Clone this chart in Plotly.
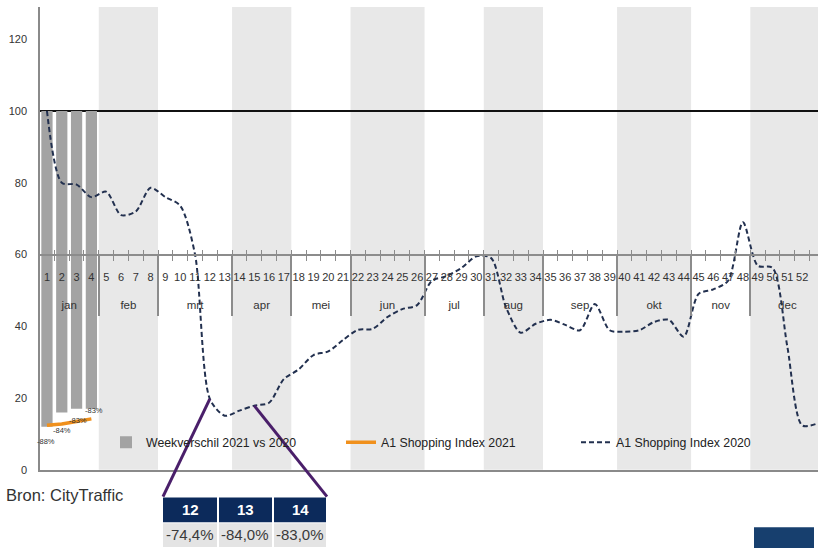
import plotly.graph_objects as go

# ---------------- data ----------------
weeks = list(range(1, 54))
week_labels = [str(w) for w in weeks]
idx2020 = [100, 80, 79.5, 76, 77.5, 71, 72, 78.6, 76, 73.6, 60, 19.8, 15.1, 16.5,
           17.9, 18.7, 25.3, 28, 32, 33, 36.2, 39, 39.3, 42.6, 44.8, 45.9, 52.7,
           54, 56.3, 59.5, 59, 45.3, 38.2, 40.7, 41.8, 40.4, 38.9, 46.2, 38.9,
           38.5, 38.9, 41.2, 41.8, 37.1, 49, 50.3, 52.7, 69, 56.9, 56.3, 34.3,
           12.4, 12.9]
weeks2021 = [1, 2, 3, 4]
idx2021 = [12.4, 12.8, 13.5, 14.2]
diff2021 = [-88, -84, -83, -83]
diff_labels = ["-88%", "-84%", "-83%", "-83%"]
months = ["jan", "feb", "mrt", "apr", "mei", "jun", "jul", "aug", "sep", "okt", "nov", "dec"]
month_weeks = [4, 4, 5, 4, 4, 5, 4, 4, 5, 5, 4, 5]   # weeks per month
shaded_months = ["feb", "apr", "jun", "aug", "okt", "dec"]
table_weeks = ["12", "13", "14"]
table_values = ["-74,4%", "-84,0%", "-83,0%"]
callout_weeks = [12, 15]
y_ticks = [0, 20, 40, 60, 80, 100, 120]
baseline = 100
axis_level = 60
source = "Bron: CityTraffic"

# ---------------- geometry ----------------
W, H = 818, 554
YMAX = 129
XR = [0.53, 53.07]
xdom = [40 / W, 1.0]
ydom = [(H - 475) / H, (H - 7) / H]
FONT = "Liberation Sans, Arial, sans-serif"


def px(x):
    return x / W


def py(y):
    return 1 - y / H


# month boundaries / centres
bounds = [0.5]
for n in month_weeks:
    bounds.append(bounds[-1] + n)
centres = [(bounds[i] + bounds[i + 1]) / 2 for i in range(len(months))]

fig = go.Figure()

fig.add_trace(go.Bar(
    x=weeks2021, y=diff2021, base=baseline, width=0.76,
    marker=dict(color="#a3a3a3", line=dict(width=0)),
    name="Weekverschil 2021 vs 2020"))

fig.add_trace(go.Scatter(
    x=weeks2021, y=idx2021, mode="lines",
    line=dict(color="#f0901c", width=3.5),
    name="A1 Shopping Index 2021"))

fig.add_trace(go.Scatter(
    x=weeks, y=idx2020, mode="lines",
    line=dict(color="#22304f", width=2, dash="5px,3px", shape="spline", smoothing=0.8),
    name="A1 Shopping Index 2020"))

# helper (empty) traces so the week / month axes at level 60 are drawn
for ax in ["x2", "x3", "x4"]:
    fig.add_trace(go.Scatter(x=[None], y=[None], xaxis=ax, yaxis="y", mode="markers",
                             showlegend=False, hoverinfo="skip"))

shapes = []
# shaded month bands
for m, a, b in zip(months, bounds[:-1], bounds[1:]):
    if m in shaded_months:
        shapes.append(dict(type="rect", xref="x", yref="paper", x0=a, x1=b,
                           y0=ydom[0], y1=ydom[1], fillcolor="#e8e8e8",
                           line=dict(width=0), layer="below"))
# baseline 100
shapes.append(dict(type="line", xref="paper", yref="y", x0=xdom[0], x1=xdom[1],
                   y0=baseline, y1=baseline, line=dict(color="#111111", width=2),
                   layer="below"))


def ypaper(v):
    return ydom[0] + v / YMAX * (ydom[1] - ydom[0])


def xpaper(w):
    return xdom[0] + (w - XR[0]) / (XR[1] - XR[0]) * (xdom[1] - xdom[0])


# callout lines to table
tab_x = [163, 218, 273, 327]
tab_y = [503, 528, 553]
ends = [tab_x[0], tab_x[-1]]
for wk, ex in zip(callout_weeks, ends):
    shapes.append(dict(type="line", xref="paper", yref="paper",
                       x0=xpaper(wk), y0=ypaper(idx2020[wk - 1]), x1=px(ex), y1=py(tab_y[0] - 1),
                       line=dict(color="#4a1f6a", width=3)))

annotations = []
# data labels of the weekly difference (small, clustered as in the source)
label_yshift = [-16, -7, 1, 8]
label_xshift = [-1, 0, 1, 3]
for wx, wy, t, ys, xs in zip(weeks2021, idx2021, diff_labels, label_yshift, label_xshift):
    annotations.append(dict(xref="x", yref="y", x=wx, y=wy, text=t, showarrow=False,
                            yshift=ys, xshift=xs,
                            font=dict(size=7.5, color="#333333", family=FONT)))

# table
for i in range(3):
    x0, x1 = tab_x[i] + (1 if i else 0), tab_x[i + 1] - 1
    shapes.append(dict(type="rect", xref="paper", yref="paper", x0=px(x0), x1=px(x1),
                       y0=py(tab_y[1]), y1=py(tab_y[0]), fillcolor="#0c2a5b",
                       line=dict(width=0)))
    shapes.append(dict(type="rect", xref="paper", yref="paper", x0=px(x0), x1=px(x1),
                       y0=py(tab_y[2]), y1=py(tab_y[1] + 1), fillcolor="#e4e4e4",
                       line=dict(width=0)))
    cx = px((x0 + x1) / 2)
    annotations.append(dict(xref="paper", yref="paper", x=cx, y=py((tab_y[0] + tab_y[1]) / 2),
                            text="<b>%s</b>" % table_weeks[i], showarrow=False,
                            font=dict(size=15, color="white", family=FONT),
                            xanchor="center", yanchor="middle"))
    annotations.append(dict(xref="paper", yref="paper", x=cx, y=py((tab_y[1] + tab_y[2]) / 2),
                            text=table_values[i], showarrow=False,
                            font=dict(size=15, color="#3a3a3a", family=FONT),
                            xanchor="center", yanchor="middle"))

# navy block bottom right
shapes.append(dict(type="rect", xref="paper", yref="paper", x0=px(754), x1=px(814),
                   y0=py(554), y1=py(533), fillcolor="#173f6e", line=dict(width=0)))

annotations.append(dict(xref="paper", yref="paper", x=px(4), y=py(500), text=source,
                        showarrow=False, xanchor="left", yanchor="middle",
                        font=dict(size=16.5, color="#333333", family=FONT)))

pos60 = ypaper(axis_level)
edge_ticks = [w + 0.5 for w in [0] + weeks]

fig.update_layout(
    width=W, height=H,
    margin=dict(l=0, r=0, t=0, b=0),
    paper_bgcolor="white", plot_bgcolor="white",
    barmode="overlay",
    showlegend=True,
    legend=dict(orientation="h", x=px(106), y=py(447), xanchor="left", yanchor="middle",
                bgcolor="rgba(0,0,0,0)", entrywidth=190, entrywidthmode="pixels",
                itemwidth=30, font=dict(size=12.3, color="#222222", family=FONT),
                traceorder="normal"),
    shapes=shapes,
    annotations=annotations,
    xaxis=dict(domain=xdom, range=XR, showgrid=False, zeroline=False,
               showticklabels=False, ticks="", showline=True,
               linecolor="#8a8a8a", linewidth=1.5, anchor="y"),
    xaxis2=dict(overlaying="x", matches="x", anchor="free", position=pos60,
                tickmode="array", tickvals=weeks, ticktext=week_labels, ticks="",
                showline=True, linecolor="#8c8c8c", linewidth=2, showgrid=False,
                zeroline=False, ticklabelstandoff=12,
                tickfont=dict(size=11, color="#333333", family=FONT),
                minor=dict(tickmode="array", tickvals=edge_ticks,
                           ticks="outside", ticklen=5, tickcolor="#8c8c8c", tickwidth=1.2)),
    xaxis3=dict(overlaying="x", matches="x", anchor="free", position=pos60, side="top",
                tickmode="array", tickvals=edge_ticks,
                ticks="outside", ticklen=5, tickcolor="#8c8c8c", tickwidth=1.2,
                showticklabels=False, showline=False, showgrid=False, zeroline=False),
    xaxis4=dict(overlaying="x", matches="x", anchor="free", position=pos60,
                tickmode="array", tickvals=centres, ticktext=months, ticks="",
                showline=False, showgrid=False, zeroline=False, ticklabelstandoff=42,
                tickfont=dict(size=11.5, color="#333333", family=FONT),
                minor=dict(tickmode="array", tickvals=bounds[1:-1], ticks="outside",
                           ticklen=60, tickcolor="#8c8c8c", tickwidth=1.5)),
    yaxis=dict(domain=ydom, range=[0, YMAX], tickvals=y_ticks, showgrid=False,
               zeroline=False, showline=True, linecolor="#8a8a8a", linewidth=1.5,
               ticks="", ticklabelstandoff=9,
               tickfont=dict(size=11, color="#333333", family=FONT)),
)

fig.write_html("out.html", config={"displayModeBar": False},
               post_script="document.body.style.margin='0px';")
